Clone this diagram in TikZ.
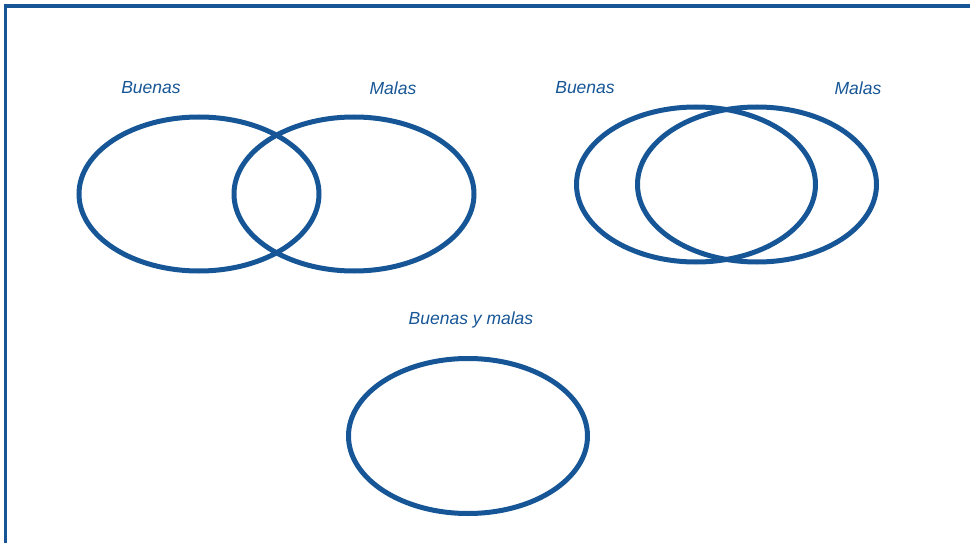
\documentclass[tikz,border=0pt]{standalone}
\usepackage{fontspec}
\setmainfont{Liberation Sans}
\definecolor{setblue}{HTML}{175696}
\tikzset{
  setline/.style={setblue,line width=5pt},
  setlabel/.style={text=setblue,font=\fontsize{17.5}{20}\selectfont\itshape},
}
\begin{document}
\begin{tikzpicture}[x=1pt,y=-1pt]
  \useasboundingbox (0,0) rectangle (970,543);
  % frame
  \draw[setblue,line width=3.2pt] (970,6) -- (5.6,6) -- (5.6,543);
  % separate sets
  \draw[setline] (199,194) ellipse (120 and 77);
  \draw[setline] (354,194) ellipse (120 and 77);
  \node[setlabel] (buenasA) at (151,88) {Buenas};
  \node[setlabel] (malasA) at (393,88) {Malas};
  % overlapping sets
  \draw[setline] (696,184.5) ellipse (119.5 and 77.5);
  \draw[setline] (757,184.5) ellipse (119.5 and 77.5);
  \node[setlabel] (buenasB) at (585,88) {Buenas};
  \node[setlabel] (malasB) at (858,88) {Malas};
  % single set
  \draw[setline] (468,436) ellipse (119.5 and 77.5);
  \node[setlabel] (ambas) at (471,320) {Buenas y malas};
\end{tikzpicture}
\end{document}
